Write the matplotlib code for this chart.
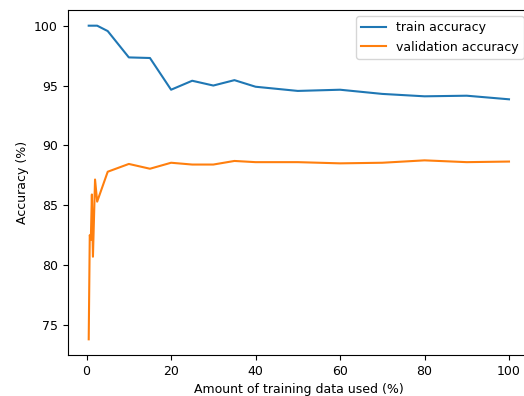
import matplotlib
matplotlib.use('Agg')
import matplotlib.pyplot as plt

plt.rcParams['font.size'] = 9

# percentage of training data used
data_pct = [0.5, 0.75, 1.0, 1.25, 1.5, 2.0, 2.5, 5, 10, 15, 20, 25, 30, 35, 40, 50, 60, 70, 80, 90, 100]

train_acc = [100.0, 100.0, 100.0, 100.0, 100.0, 100.0, 100.0, 99.55, 97.35, 97.3, 94.65, 95.4,
             95.0, 95.45, 94.9, 94.55, 94.65, 94.3, 94.1, 94.15, 93.85]
val_acc = [73.8, 82.5, 82.1, 85.9, 80.7, 87.15, 85.3, 87.8, 88.45, 88.05, 88.55, 88.4,
           88.4, 88.7, 88.6, 88.6, 88.5, 88.55, 88.75, 88.6, 88.65]

fig = plt.figure(figsize=(5.24, 3.96), dpi=100)
ax = fig.add_axes([67.7 / 524, 41 / 396, (530 - 67.7) / 524, (355 - 10) / 396])

ax.plot(data_pct, train_acc, label='train accuracy')
ax.plot(data_pct, val_acc, label='validation accuracy')
ax.set_xlabel('Amount of training data used (%)')
ax.set_ylabel('Accuracy (%)')
ax.legend(loc='upper right')

fig.savefig('out.png', dpi=100)
